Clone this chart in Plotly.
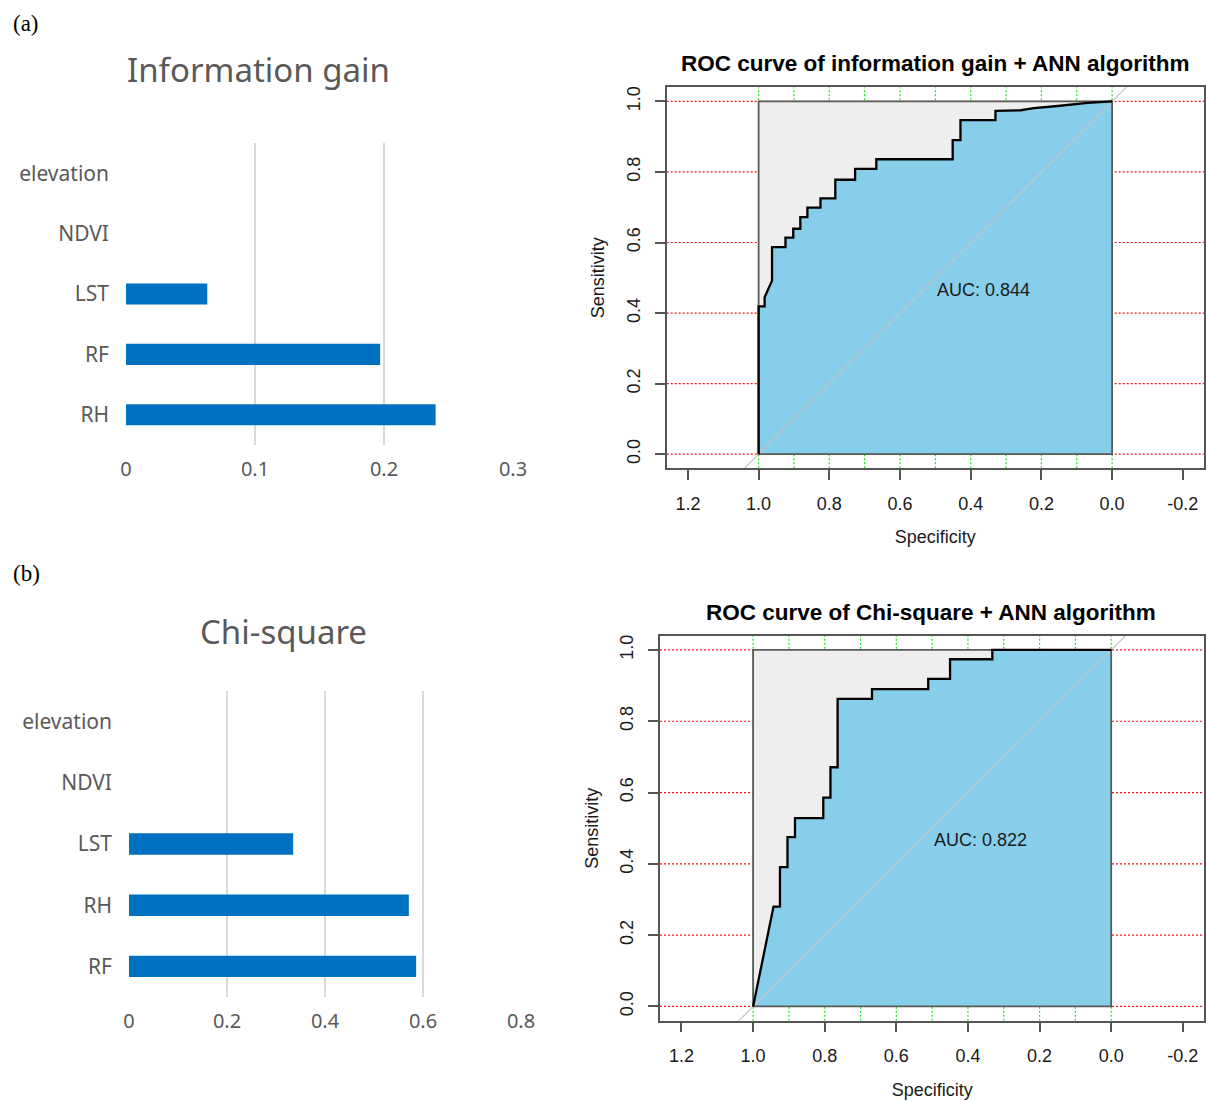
import plotly.graph_objects as go

W, H = 1206, 1101

# ---------------- data ----------------
ig_features = ["elevation", "NDVI", "LST", "RF", "RH"]
ig_values = [0.0, 0.0, 0.063, 0.197, 0.240]
ig_ticks = [0, 0.1, 0.2, 0.3]

chi_features = ["elevation", "NDVI", "LST", "RH", "RF"]
chi_values = [0.0, 0.0, 0.335, 0.571, 0.586]
chi_ticks = [0, 0.2, 0.4, 0.6, 0.8]

roc1_spec = [1.0, 1.0, 0.983, 0.983, 0.962, 0.962, 0.924, 0.924, 0.902, 0.902,
             0.882, 0.882, 0.862, 0.862, 0.825, 0.825, 0.783, 0.783, 0.727, 0.727,
             0.667, 0.667, 0.451, 0.451, 0.429, 0.429, 0.330, 0.330, 0.259, 0.221,
             0.154, 0.107, 0.069, 0.0]
roc1_sens = [0.0, 0.419, 0.419, 0.445, 0.492, 0.587, 0.587, 0.614, 0.614, 0.639,
             0.639, 0.672, 0.672, 0.699, 0.699, 0.725, 0.725, 0.778, 0.778, 0.809,
             0.809, 0.836, 0.836, 0.890, 0.890, 0.947, 0.947, 0.973, 0.975, 0.981,
             0.987, 0.992, 0.996, 1.0]
roc1_auc = "AUC: 0.844"
roc1_title = "ROC curve of information gain + ANN algorithm"

roc2_spec = [1.0, 0.943, 0.925, 0.925, 0.904, 0.904, 0.883, 0.883, 0.804, 0.804,
             0.784, 0.784, 0.764, 0.764, 0.668, 0.668, 0.511, 0.511, 0.450, 0.450,
             0.332, 0.332, 0.0]
roc2_sens = [0.0, 0.280, 0.280, 0.391, 0.391, 0.475, 0.475, 0.528, 0.528, 0.586,
             0.586, 0.671, 0.671, 0.863, 0.863, 0.890, 0.890, 0.919, 0.919, 0.974,
             0.974, 1.0, 1.0]
roc2_auc = "AUC: 0.822"
roc2_title = "ROC curve of Chi-square + ANN algorithm"

spec_ticks = [1.2, 1.0, 0.8, 0.6, 0.4, 0.2, 0.0, -0.2]
sens_ticks = [0.0, 0.2, 0.4, 0.6, 0.8, 1.0]
green_grid = [round(i * 0.1, 1) for i in range(11)]

ROC_XRANGE = [1.26, -0.26]
ROC_YRANGE = [-0.04, 1.04]

# --------------- helpers ---------------
def px_x(p):
    return p / W

def px_y(p):
    return 1 - p / H

BAR_FONT = "Noto Sans"
BAR_GREY = "#595959"
R_FONT = "Liberation Sans"

fig = go.Figure()

# ---------- bar charts ----------
def add_bar(features, values, xa, ya):
    fig.add_trace(go.Bar(
        x=values, y=features, orientation="h",
        marker=dict(color="#0070C0", line=dict(width=0)),
        xaxis=xa, yaxis=ya, hoverinfo="skip"))

add_bar(ig_features, ig_values, "x", "y")
add_bar(chi_features, chi_values, "x3", "y3")

# ---------- ROC panels ----------
def add_roc(spec, sens, xa, ya, auc_text):
    s_lo, s_hi = min(spec), max(spec)
    t_lo, t_hi = min(sens), max(sens)
    # red horizontal grid
    for g in sens_ticks:
        fig.add_trace(go.Scatter(
            x=ROC_XRANGE, y=[g, g], mode="lines",
            line=dict(color="#FF1010", width=1.2, dash="2px,2px"),
            xaxis=xa, yaxis=ya, hoverinfo="skip"))
    # green vertical grid
    for g in green_grid:
        fig.add_trace(go.Scatter(
            x=[g, g], y=ROC_YRANGE, mode="lines",
            line=dict(color="#22E022", width=1.2, dash="2px,2px"),
            xaxis=xa, yaxis=ya, hoverinfo="skip"))
    # max-AUC square (grey)
    fig.add_trace(go.Scatter(
        x=[s_hi, s_lo, s_lo, s_hi, s_hi], y=[t_lo, t_lo, t_hi, t_hi, t_lo],
        mode="lines", fill="toself", fillcolor="#EEEEEE",
        line=dict(width=0), xaxis=xa, yaxis=ya, hoverinfo="skip"))
    # AUC polygon
    fig.add_trace(go.Scatter(
        x=list(spec) + [s_lo, s_hi], y=list(sens) + [t_lo, t_lo],
        mode="lines", fill="toself", fillcolor="#87CEEB",
        line=dict(width=0), xaxis=xa, yaxis=ya, hoverinfo="skip"))
    # diagonal
    fig.add_trace(go.Scatter(
        x=ROC_XRANGE, y=[1 - v for v in ROC_XRANGE],
        mode="lines", line=dict(color="#C4C4C4", width=1.2),
        xaxis=xa, yaxis=ya, hoverinfo="skip"))
    # square outline
    fig.add_trace(go.Scatter(
        x=[s_hi, s_lo, s_lo, s_hi, s_hi], y=[t_lo, t_lo, t_hi, t_hi, t_lo],
        mode="lines", line=dict(color="#5A5A5A", width=1.8),
        xaxis=xa, yaxis=ya, hoverinfo="skip"))
    # ROC curve
    fig.add_trace(go.Scatter(
        x=spec, y=sens, mode="lines", line=dict(color="#000000", width=2.3),
        xaxis=xa, yaxis=ya, hoverinfo="skip"))
    fig.add_annotation(x=0.5, y=0.5, xref=xa, yref=ya, text=auc_text,
                       showarrow=False, xanchor="left", yanchor="top",
                       font=dict(family=R_FONT, size=18, color="#1a1a1a"))

add_roc(roc1_spec, roc1_sens, "x2", "y2", roc1_auc)
add_roc(roc2_spec, roc2_sens, "x4", "y4", roc2_auc)

# ---------- axes ----------
bar_x_common = dict(showgrid=True, gridcolor="#D9D9D9", gridwidth=2,
                    zeroline=False, showline=False, ticks="", automargin=False,
                    tickfont=dict(family=BAR_FONT, size=20, color=BAR_GREY),
                    ticklabelstandoff=10, fixedrange=True)
bar_y_common = dict(showgrid=False, zeroline=False, showline=False, ticks="",
                    autorange="reversed", type="category", automargin=False,
                    tickfont=dict(family=BAR_FONT, size=21, color=BAR_GREY),
                    ticklabelstandoff=16, fixedrange=True)

fig.update_layout(
    xaxis=dict(domain=[px_x(126), px_x(513)], range=[0, 0.3],
               tickvals=ig_ticks, ticktext=[f"{v:g}" for v in ig_ticks],
               anchor="y", **bar_x_common),
    yaxis=dict(domain=[px_y(445), px_y(143)], anchor="x",
               categoryorder="array", categoryarray=ig_features, **bar_y_common),
    xaxis3=dict(domain=[px_x(129), px_x(521)], range=[0, 0.8],
                tickvals=chi_ticks, ticktext=[f"{v:g}" for v in chi_ticks],
                anchor="y3", **bar_x_common),
    yaxis3=dict(domain=[px_y(997), px_y(691)], anchor="x3",
                categoryorder="array", categoryarray=chi_features, **bar_y_common),
)

def roc_axes(xdom, ydom, ya, xa):
    xax = dict(domain=xdom, range=ROC_XRANGE, anchor=ya, automargin=False,
               tickvals=spec_ticks, ticktext=[f"{v:.1f}" for v in spec_ticks],
               ticks="outside", ticklen=10, tickwidth=1.5, tickcolor="#555555",
               showline=True, mirror=True, linecolor="#555555", linewidth=1.5,
               showgrid=False, zeroline=False, fixedrange=True,
               tickfont=dict(family=R_FONT, size=18, color="#1a1a1a"),
               ticklabelstandoff=8,
               title=dict(text="Specificity", standoff=18,
                          font=dict(family=R_FONT, size=18, color="#1a1a1a")))
    yax = dict(domain=ydom, range=ROC_YRANGE, anchor=xa, automargin=False,
               tickvals=sens_ticks, ticktext=[f"{v:.1f}" for v in sens_ticks],
               tickangle=-90,
               ticks="outside", ticklen=10, tickwidth=1.5, tickcolor="#555555",
               showline=True, mirror=True, linecolor="#555555", linewidth=1.5,
               showgrid=False, zeroline=False, fixedrange=True,
               tickfont=dict(family=R_FONT, size=18, color="#1a1a1a"),
               ticklabelstandoff=8,
               title=dict(text="Sensitivity", standoff=14,
                          font=dict(family=R_FONT, size=18, color="#1a1a1a")))
    return xax, yax

x2, y2 = roc_axes([px_x(666.7), px_x(1204)], [px_y(468.3), px_y(87.3)], "y2", "x2")
x4, y4 = roc_axes([px_x(660), px_x(1204.3)], [px_y(1020.7), px_y(635.7)], "y4", "x4")
fig.update_layout(xaxis2=x2, yaxis2=y2, xaxis4=x4, yaxis4=y4)

# ---------- titles / panel labels ----------
def paper_text(x, y, text, size, family, color, anchor="center", bold=False):
    fig.add_annotation(x=px_x(x), y=px_y(y), xref="paper", yref="paper",
                       text=f"<b>{text}</b>" if bold else text, showarrow=False,
                       xanchor=anchor, yanchor="middle",
                       font=dict(family=family, size=size, color=color))

paper_text(258.5, 69, "Information gain", 33, BAR_FONT, BAR_GREY)
paper_text(283, 631, "Chi-square", 33, BAR_FONT, BAR_GREY)
paper_text(935, 64, roc1_title, 22.5, R_FONT, "#000000", bold=True)
paper_text(931, 612, roc2_title, 22.5, R_FONT, "#000000", bold=True)
paper_text(11, 24, "(a)", 23, "Liberation Serif", "#000000", anchor="left")
paper_text(11, 573, "(b)", 23, "Liberation Serif", "#000000", anchor="left")

fig.update_layout(
    width=W, height=H, autosize=False,
    margin=dict(l=0, r=0, t=0, b=0, pad=0, autoexpand=False),
    paper_bgcolor="white", plot_bgcolor="white",
    showlegend=False, bargap=0.65, hovermode=False,
)

fig.write_html(
    "out.html",
    config={"displayModeBar": False, "responsive": False},
    post_script=("document.body.style.margin='0';document.body.style.padding='0';"
                 "document.documentElement.style.overflow='hidden';"),
)
